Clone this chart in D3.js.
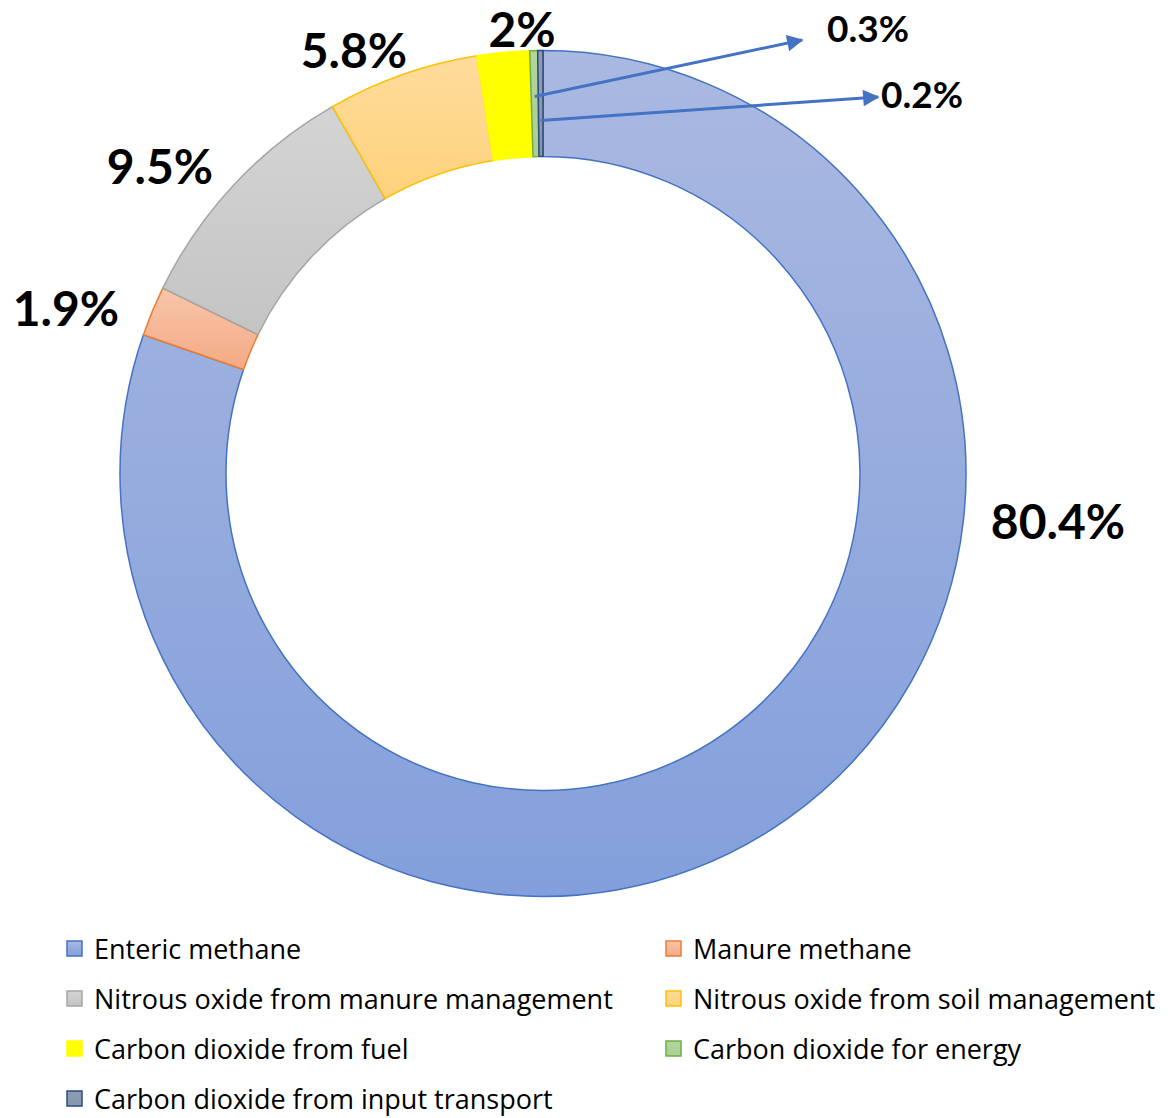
<!DOCTYPE html>
<html>
<head>
<meta charset="utf-8">
<script src="https://cdn.jsdelivr.net/npm/d3@7"></script>
<style>
  body { margin: 0; background: #fff; }
  svg { display: block; }
</style>
</head>
<body>
<div id="chart"></div>
<script>
// Data
const categories = ["Enteric methane", "Manure methane", "Nitrous oxide from manure management",
    "Nitrous oxide from soil management", "Carbon dioxide from fuel", "Carbon dioxide for energy",
    "Carbon dioxide from input transport"]
const values = [80.4, 1.9, 9.5, 5.8, 2, 0.3, 0.2]
const valueLabels = ["80.4%", "1.9%", "9.5%", "5.8%", "2%", "0.3%", "0.2%"]

// Styles per series (top colour, bottom colour, outline)
const fillTop = ["#aab9e1", "#f8c5ab", "#d4d4d4", "#ffdc9c", "#ffff00", "#b4d49e", "#8e9cb4"]
const fillBottom = ["#839fdb", "#f4aa84", "#c4c4c4", "#fed27c", "#ffff00", "#a9d18e", "#8497b0"]
const strokes = ["#4472c4", "#ed7d31", "#a5a5a5", "#ffc000", "#ffff00", "#70ad47", "#2f4b7c"]

const WIDTH = 1173
const HEIGHT = 1118
const CX = 543, CY = 473.5
const R_OUT = 423, R_IN = 317

let svg = d3.select("#chart").append("svg")
    .attr("width", WIDTH)
    .attr("height", HEIGHT)

// Gradients
let defs = svg.append("defs")
categories.forEach(function(c, i) {
    let g = defs.append("linearGradient")
        .attr("id", "grad" + i)
        .attr("x1", 0).attr("y1", 0).attr("x2", 0).attr("y2", 1)
    g.append("stop").attr("offset", "0%").attr("stop-color", fillTop[i])
    g.append("stop").attr("offset", "100%").attr("stop-color", fillBottom[i])
})

defs.append("marker")
    .attr("id", "arrow")
    .attr("viewBox", "0 0 10 10")
    .attr("refX", 9).attr("refY", 5)
    .attr("markerWidth", 7).attr("markerHeight", 5.5)
    .attr("markerUnits", "strokeWidth")
    .attr("orient", "auto")
    .append("path")
    .attr("d", "M0,0 L10,5 L0,10 Z")
    .attr("fill", "#4472c4")

// Donut
let pie = d3.pie().sort(null).value(d => d)
let arcs = pie(values)
let arc = d3.arc().innerRadius(R_IN).outerRadius(R_OUT)

let g = svg.append("g").attr("transform", "translate(" + CX + "," + CY + ")")

g.selectAll("path.slice")
    .data(arcs)
    .enter()
    .append("path")
    .attr("class", "slice")
    .attr("d", arc)
    .attr("fill", (d, i) => "url(#grad" + i + ")")
    .attr("stroke", (d, i) => strokes[i])
    .attr("stroke-width", 1.5)
    .attr("stroke-linejoin", "round")

// Labels (manually placed, like the original)
const labelPos = [[1058, 539, 48], [66, 326, 48], [160, 184, 48], [354, 68, 48], [522, 47, 48], [868, 42, 37], [922, 108, 37]]

svg.selectAll("text.val")
    .data(valueLabels)
    .enter()
    .append("text")
    .attr("class", "val")
    .attr("x", (d, i) => labelPos[i][0])
    .attr("y", (d, i) => labelPos[i][1])
    .attr("text-anchor", "middle")
    .attr("font-family", "Lato, 'Open Sans', sans-serif")
    .attr("font-weight", "bold")
    .attr("font-size", (d, i) => labelPos[i][2])
    .attr("fill", "#000")
    .text(d => d)

// Leader arrows for the two thin slices
const arrowEnds = [[5, 377, 802, 40], [6, 353, 878, 97]]
arrowEnds.forEach(function(a) {
    let d = arcs[a[0]]
    let mid = (d.startAngle + d.endAngle) / 2
    let x0 = CX + a[1] * Math.sin(mid)
    let y0 = CY - a[1] * Math.cos(mid)
    svg.append("line")
        .attr("x1", x0).attr("y1", y0)
        .attr("x2", a[2]).attr("y2", a[3])
        .attr("stroke", "#4472c4")
        .attr("stroke-width", 3)
        .attr("marker-end", "url(#arrow)")
})

// Legend
let legend = svg.append("g")
let items = legend.selectAll("g.item")
    .data(categories)
    .enter()
    .append("g")
    .attr("class", "item")
    .attr("transform", (d, i) => "translate(" + (i % 2 === 0 ? 67 : 666) + "," + (949 + Math.floor(i / 2) * 50) + ")")

items.append("rect")
    .attr("x", 0).attr("y", -8)
    .attr("width", 15).attr("height", 15)
    .attr("fill", (d, i) => "url(#grad" + i + ")")
    .attr("stroke", (d, i) => strokes[i])
    .attr("stroke-width", 1.5)

items.append("text")
    .attr("x", 27)
    .attr("y", 9.5)
    .attr("font-family", "'Open Sans', Lato, sans-serif")
    .attr("font-size", 27)
    .attr("fill", "#000")
    .text(d => d)
</script>
</body>
</html>
